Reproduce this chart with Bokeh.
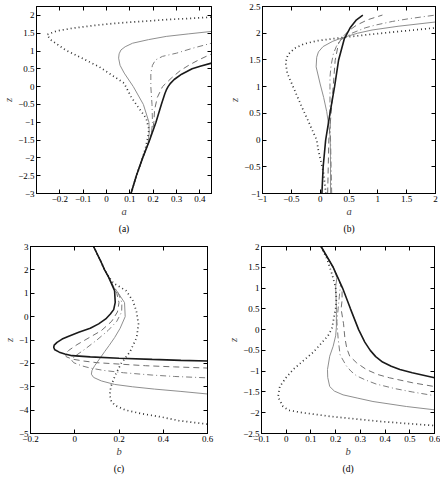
from bokeh.plotting import figure
from bokeh.models import Range1d, FixedTicker, LinearAxis, Title, CustomLabelingPolicy
from bokeh.layouts import row, column
from bokeh.embed import file_html
from bokeh.resources import INLINE

# ---------------- Panel (a) ----------------
a_xticks = [-0.2, -0.1, 0, 0.1, 0.2, 0.3, 0.4]
a_xlabels = ["−0.2", "−0.1", "0", "0.1", "0.2", "0.3", "0.4"]
a_yticks = [-3, -2.5, -2, -1.5, -1, -0.5, 0, 0.5, 1, 1.5, 2]
a_ylabels = ["−3", "−2.5", "−2", "−1.5", "−1", "−0.5", "0", "0.5", "1", "1.5", "2"]

a_black_z = [-3.0, -2.5, -2.0, -1.5, -1.0, -0.5, -0.2, -0.1, 0.0, 0.1, 0.2, 0.35, 0.5, 0.58, 0.66]
a_black_x = [0.105, 0.128, 0.155, 0.185, 0.212, 0.235, 0.25, 0.256, 0.264, 0.275, 0.29, 0.322, 0.367, 0.405, 0.45]
a_dash_z = [-3.0, -2.5, -2.0, -1.5, -1.2, -1.0, -0.65, -0.3, 0.0, 0.24, 0.45, 0.61, 0.75, 0.92]
a_dash_x = [0.105, 0.128, 0.155, 0.184, 0.198, 0.203, 0.206, 0.218, 0.24, 0.278, 0.316, 0.355, 0.395, 0.45]
a_dashdot_z = [-3.0, -2.5, -2.0, -1.6, -1.3, -1.0, -0.5, 0.0, 0.38, 0.6, 0.75, 0.85, 0.94, 1.08, 1.22]
a_dashdot_x = [0.105, 0.128, 0.155, 0.18, 0.193, 0.197, 0.195, 0.19, 0.19, 0.197, 0.21, 0.24, 0.3, 0.37, 0.45]
a_gray_z = [-3.0, -2.5, -2.0, -1.6, -1.3, -1.0, -0.5, 0.0, 0.38, 0.6, 0.8, 0.92, 1.03, 1.12, 1.22, 1.32, 1.41, 1.48, 1.55]
a_gray_x = [0.105, 0.128, 0.155, 0.178, 0.183, 0.182, 0.158, 0.115, 0.076, 0.058, 0.052, 0.054, 0.062, 0.08, 0.112, 0.18, 0.256, 0.35, 0.45]
a_dot_z = [-3.0, -2.5, -2.0, -1.7, -1.4, -1.2, -0.89, -0.56, -0.28, 0.1, 0.56, 1.03, 1.32, 1.46, 1.56, 1.64, 1.72, 1.78, 1.88, 1.95]
a_dot_x = [0.105, 0.128, 0.155, 0.168, 0.178, 0.182, 0.17, 0.134, 0.105, 0.075, -0.032, -0.176, -0.24, -0.255, -0.215, -0.147, -0.05, 0.04, 0.256, 0.45]

# ---------------- Panel (b) ----------------
b_xticks = [-1, -0.5, 0, 0.5, 1, 1.5, 2]
b_xlabels = ["−1", "−0.5", "0", "0.5", "1", "1.5", "2"]
b_yticks = [-1, -0.5, 0, 0.5, 1, 1.5, 2, 2.5]
b_ylabels = ["−1", "−0.5", "0", "0.5", "1", "1.5", "2", "2.5"]

b_black_z = [-1.0, -0.5, 0.0, 0.5, 1.0, 1.5, 1.9, 2.1, 2.25, 2.34]
b_black_x = [0.03, 0.052, 0.095, 0.17, 0.25, 0.32, 0.42, 0.52, 0.63, 0.74]
b_dash_z = [-1.0, -0.5, 0.0, 0.5, 1.06, 1.49, 1.8, 1.92, 2.05, 2.15, 2.25, 2.34]
b_dash_x = [0.13, 0.14, 0.15, 0.19, 0.23, 0.26, 0.316, 0.38, 0.5, 0.63, 0.82, 1.08]
b_dashdot_z = [-1.0, -0.5, 0.0, 0.5, 1.0, 1.18, 1.4, 1.62, 1.75, 1.87, 2.0, 2.1, 2.15, 2.22, 2.27, 2.34]
b_dashdot_x = [0.2, 0.19, 0.18, 0.17, 0.17, 0.17, 0.19, 0.23, 0.28, 0.345, 0.55, 0.78, 0.95, 1.25, 1.53, 2.0]
b_gray_z = [-1.0, -0.5, 0.0, 0.15, 0.53, 0.8, 1.05, 1.37, 1.55, 1.65, 1.75, 1.85, 1.92, 2.0, 2.06, 2.13, 2.21]
b_gray_x = [0.18, 0.18, 0.175, 0.165, 0.114, 0.06, 0.0, -0.07, -0.06, -0.03, 0.05, 0.22, 0.4, 0.65, 0.9, 1.35, 2.0]
b_dot_z = [-1.0, -0.6, -0.2, 0.0, 0.34, 0.6, 0.8, 1.0, 1.25, 1.45, 1.6, 1.72, 1.8, 1.86, 1.92, 1.97, 2.02, 2.1]
b_dot_x = [0.1, 0.056, -0.03, -0.06, -0.2, -0.31, -0.39, -0.47, -0.57, -0.6, -0.56, -0.44, -0.28, -0.05, 0.4, 0.8, 1.25, 2.0]

# ---------------- Panel (c) ----------------
c_xticks = [-0.2, 0, 0.2, 0.4, 0.6]
c_xlabels = ["−0.2", "0", "0.2", "0.4", "0.6"]
c_yticks = [-5, -4, -3, -2, -1, 0, 1, 2, 3]
c_ylabels = ["−5", "−4", "−3", "−2", "−1", "0", "1", "2", "3"]

c_black_z = [3.0, 2.4, 2.0, 1.69, 1.11, 0.61, 0.3, 0.11, -0.1, -0.31, -0.5, -0.67, -0.85, -0.96, -1.1, -1.22, -1.32, -1.42, -1.52, -1.6, -1.67, -1.72, -1.78, -1.83, -1.87, -1.9]
c_black_x = [0.085, 0.116, 0.135, 0.153, 0.18, 0.183, 0.176, 0.161, 0.14, 0.108, 0.07, 0.018, -0.03, -0.057, -0.08, -0.093, -0.095, -0.09, -0.07, -0.045, -0.012, 0.07, 0.2, 0.35, 0.48, 0.6]
c_dash_z = [3.0, 2.4, 2.0, 1.69, 1.3, 1.0, 0.6, 0.2, -0.2, -0.6, -0.9, -1.2, -1.45, -1.6, -1.72, -1.82, -1.9, -1.97, -2.03, -2.1, -2.15, -2.2]
c_dash_x = [0.085, 0.116, 0.135, 0.153, 0.172, 0.19, 0.2, 0.193, 0.167, 0.12, 0.065, 0.01, -0.028, -0.042, -0.038, -0.01, 0.04, 0.1, 0.2, 0.32, 0.45, 0.6]
c_dashdot_z = [3.0, 2.4, 2.0, 1.69, 1.3, 1.0, 0.6, 0.2, -0.2, -0.6, -1.0, -1.4, -1.7, -1.85, -1.97, -2.1, -2.2, -2.3, -2.4, -2.5, -2.56, -2.62]
c_dashdot_x = [0.085, 0.116, 0.135, 0.153, 0.175, 0.197, 0.213, 0.212, 0.19, 0.15, 0.1, 0.045, 0.0, -0.015, -0.005, 0.03, 0.07, 0.13, 0.22, 0.35, 0.45, 0.6]
c_gray_z = [3.0, 2.4, 2.0, 1.69, 1.3, 1.1, 0.6, 0.0, -0.5, -0.9, -1.24, -1.5, -1.81, -2.1, -2.3, -2.46, -2.6, -2.75, -2.9, -3.0, -3.1, -3.2, -3.31]
c_gray_x = [0.085, 0.116, 0.135, 0.153, 0.172, 0.19, 0.225, 0.228, 0.205, 0.18, 0.155, 0.135, 0.112, 0.09, 0.078, 0.075, 0.085, 0.12, 0.18, 0.26, 0.36, 0.48, 0.6]
c_dot_z = [3.0, 2.4, 2.0, 1.69, 1.43, 1.11, 0.69, 0.26, -0.31, -0.89, -1.5, -2.0, -2.5, -3.0, -3.36, -3.6, -3.79, -4.0, -4.15, -4.29, -4.45, -4.6]
c_dot_x = [0.085, 0.116, 0.135, 0.155, 0.175, 0.232, 0.262, 0.278, 0.288, 0.28, 0.25, 0.21, 0.183, 0.163, 0.158, 0.165, 0.18, 0.23, 0.3, 0.39, 0.47, 0.6]

# ---------------- Panel (d) ----------------
d_xticks = [-0.1, 0, 0.1, 0.2, 0.3, 0.4, 0.5, 0.6]
d_xlabels = ["−0.1", "0", "0.1", "0.2", "0.3", "0.4", "0.5", "0.6"]
d_yticks = [-2.5, -2, -1.5, -1, -0.5, 0, 0.5, 1, 1.5, 2]
d_ylabels = ["−2.5", "−2", "−1.5", "−1", "−0.5", "0", "0.5", "1", "1.5", "2"]

d_black_z = [2.0, 1.5, 1.0, 0.5, 0.0, -0.3, -0.5, -0.65, -0.78, -0.88, -0.96, -1.04, -1.1, -1.16]
d_black_x = [0.141, 0.19, 0.228, 0.26, 0.293, 0.318, 0.34, 0.362, 0.39, 0.425, 0.46, 0.51, 0.555, 0.6]
d_dash_z = [2.0, 1.5, 1.0, 0.7, 0.5, 0.14, -0.18, -0.45, -0.64, -0.8, -0.96, -1.08, -1.16, -1.28, -1.37]
d_dash_x = [0.141, 0.19, 0.226, 0.226, 0.222, 0.232, 0.237, 0.245, 0.257, 0.285, 0.324, 0.37, 0.418, 0.512, 0.6]
d_dashdot_z = [2.0, 1.5, 1.1, 0.8, 0.5, 0.19, -0.21, -0.61, -0.87, -1.0, -1.11, -1.21, -1.31, -1.42, -1.5, -1.59]
d_dashdot_x = [0.141, 0.19, 0.22, 0.215, 0.21, 0.205, 0.21, 0.218, 0.243, 0.262, 0.284, 0.32, 0.364, 0.44, 0.51, 0.6]
d_gray_z = [2.0, 1.5, 1.25, 1.02, 0.54, 0.06, -0.15, -0.4, -0.64, -0.96, -1.15, -1.37, -1.48, -1.57, -1.65, -1.73, -1.85, -1.93]
d_gray_x = [0.141, 0.19, 0.205, 0.2, 0.203, 0.203, 0.2, 0.19, 0.176, 0.167, 0.168, 0.176, 0.195, 0.23, 0.29, 0.351, 0.486, 0.6]
d_dot_z = [2.0, 1.7, 1.34, 1.02, 0.75, 0.51, 0.03, -0.15, -0.54, -0.95, -1.15, -1.37, -1.62, -1.85, -1.94, -1.99, -2.09, -2.21, -2.31]
d_dot_x = [0.141, 0.165, 0.185, 0.2, 0.203, 0.2, 0.185, 0.169, 0.11, 0.03, 0.0, -0.026, -0.033, -0.013, 0.01, 0.055, 0.18, 0.38, 0.6]

FONT = "Liberation Serif"

HIDE_ALL = """
for (const i of indices) {
    indices.unset(i)
}
return indices
"""


def style_axis(ax, ticks, labels, show_labels=True):
    ax.ticker = FixedTicker(ticks=ticks)
    ax.major_tick_in = 4
    ax.major_tick_out = 0
    ax.minor_tick_line_color = None
    ax.axis_line_color = "black"
    ax.major_tick_line_color = "black"
    ax.major_label_text_font = FONT
    ax.major_label_text_color = "black"
    if show_labels:
        ax.major_label_overrides = dict(zip(ticks, labels))
        ax.major_label_text_font_size = "9px"
        ax.major_label_standoff = 2
    else:
        ax.major_label_text_font_size = "1px"
        ax.major_label_standoff = 0
        ax.major_label_policy = CustomLabelingPolicy(code=HIDE_ALL)


def make_panel(xr, yr, xticks, xlabels, yticks, ylabels, xlab, caption,
               fw, left, right, top, bottom, curves):
    p = figure(frame_width=fw, frame_height=187,
               x_range=Range1d(*xr), y_range=Range1d(*yr),
               output_backend="svg", toolbar_location=None,
               min_border_left=left, min_border_right=right,
               min_border_top=top, min_border_bottom=bottom,
               background_fill_color="white", border_fill_color="white")
    p.grid.visible = False
    p.outline_line_color = "black"
    p.outline_line_width = 1
    style_axis(p.xaxis[0], xticks, xlabels)
    style_axis(p.yaxis[0], yticks, ylabels)
    p.xaxis[0].axis_label = xlab
    p.yaxis[0].axis_label = "z"
    for ax in (p.xaxis[0], p.yaxis[0]):
        ax.axis_label_text_font = FONT
        ax.axis_label_text_font_style = "italic"
        ax.axis_label_text_font_size = "10.5px"
        ax.axis_label_standoff = 1
    top_ax = LinearAxis()
    style_axis(top_ax, xticks, xlabels, show_labels=False)
    p.add_layout(top_ax, "above")
    right_ax = LinearAxis()
    style_axis(right_ax, yticks, ylabels, show_labels=False)
    p.add_layout(right_ax, "right")
    p.add_layout(Title(text=caption, align="center", text_font=FONT,
                       text_font_size="9.5px", text_font_style="normal",
                       text_color="black", standoff=4), "below")

    (gx, gz), (ddx, ddz), (dx, dz), (ox, oz), (bx, bz) = curves
    p.line(gx, gz, line_color="#8f8f8f", line_width=1)
    p.line(ddx, ddz, line_color="#7d7d7d", line_width=1, line_dash="6 3 1 3")
    p.line(dx, dz, line_color="#707070", line_width=1, line_dash="6 4")
    p.line(ox, oz, line_color="#333333", line_width=1.7, line_dash="1 3")
    p.line(bx, bz, line_color="#1a1a1a", line_width=1.6)
    return p


pa = make_panel((-0.3, 0.45), (-3, 2.25), a_xticks, a_xlabels, a_yticks, a_ylabels,
                "a", "(a)", 175, 33, 12, 6, 48,
                [(a_gray_x, a_gray_z), (a_dashdot_x, a_dashdot_z), (a_dash_x, a_dash_z),
                 (a_dot_x, a_dot_z), (a_black_x, a_black_z)])
pb = make_panel((-1, 2), (-1, 2.5), b_xticks, b_xlabels, b_yticks, b_ylabels,
                "a", "(b)", 173, 39, 8, 6, 48,
                [(b_gray_x, b_gray_z), (b_dashdot_x, b_dashdot_z), (b_dash_x, b_dash_z),
                 (b_dot_x, b_dot_z), (b_black_x, b_black_z)])
pc = make_panel((-0.2, 0.6), (-5, 3), c_xticks, c_xlabels, c_yticks, c_ylabels,
                "b", "(c)", 177, 27, 16, 5, 49,
                [(c_gray_x, c_gray_z), (c_dashdot_x, c_dashdot_z), (c_dash_x, c_dash_z),
                 (c_dot_x, c_dot_z), (c_black_x, c_black_z)])
pd_ = make_panel((-0.1, 0.6), (-2.5, 2), d_xticks, d_xlabels, d_yticks, d_ylabels,
                 "b", "(d)", 173, 38, 9, 5, 49,
                 [(d_gray_x, d_gray_z), (d_dashdot_x, d_dashdot_z), (d_dash_x, d_dash_z),
                  (d_dot_x, d_dot_z), (d_black_x, d_black_z)])

layout = column(row(pa, pb), row(pc, pd_))
open("out.html", "w").write(file_html(layout, INLINE))
